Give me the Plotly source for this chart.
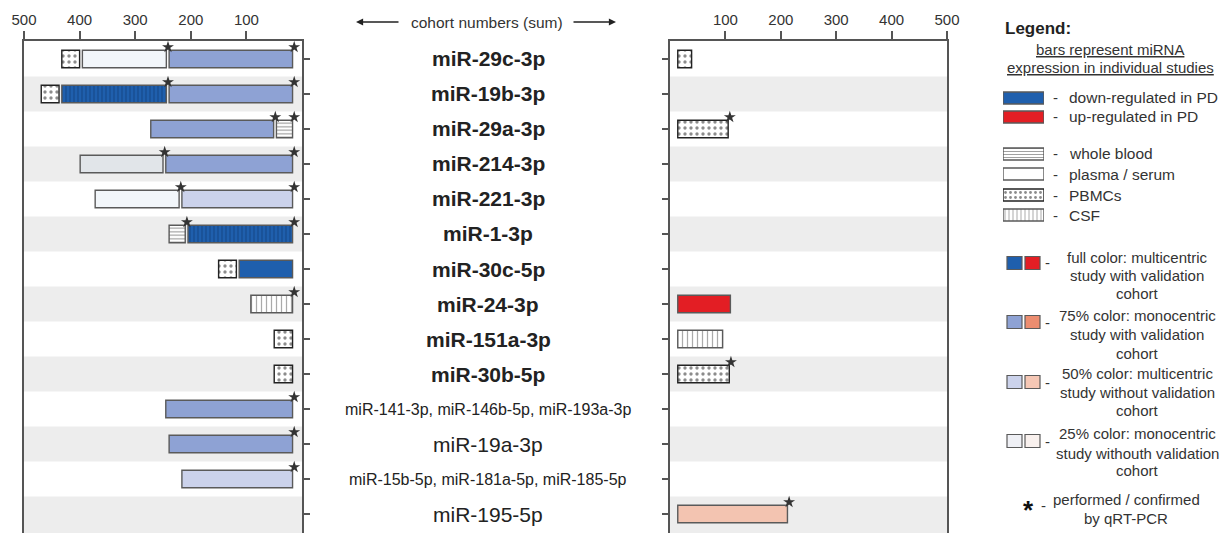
import plotly.graph_objects as go

W, H = 1228, 533
FONT = "Liberation Sans, Arial, sans-serif"

# ---------------- data ----------------
categories = [
    "miR-29c-3p", "miR-19b-3p", "miR-29a-3p", "miR-214-3p", "miR-221-3p",
    "miR-1-3p", "miR-30c-5p", "miR-24-3p", "miR-151a-3p", "miR-30b-5p",
    "miR-141-3p, miR-146b-5p, miR-193a-3p", "miR-19a-3p",
    "miR-15b-5p, miR-181a-5p, miR-185-5p", "miR-195-5p",
]
label_bold = [True] * 10 + [False] * 4
label_size = [21] * 10 + [16, 21, 16, 21]

# left panel: down-regulated studies (inner -> outer per row)
left_row = [0, 0, 0, 1, 1, 1, 2, 2, 3, 3, 4, 4, 5, 5, 6, 6, 7, 8, 9, 10, 11, 12]
left_value = [222, 151, 32, 222, 188, 32, 29, 221, 228, 149, 199, 151, 188, 29,
              96, 32, 75, 33, 33, 228, 222, 199]
left_style = ["b75", "b25", "pbmc", "b75", "b100csf", "pbmc", "wb", "b75", "b75", "b25",
              "b50", "b25", "b100csf", "wb", "b100", "pbmc", "csf", "pbmc", "pbmc",
              "b75", "b75", "b50"]
left_qpcr = [1, 1, 0, 1, 1, 0, 1, 1, 1, 1, 1, 1, 1, 1, 0, 0, 1, 0, 0, 1, 1, 1]

# right panel: up-regulated studies
right_row = [0, 2, 7, 8, 9, 13]
right_value = [25, 91, 95, 81, 93, 198]
right_style = ["pbmc", "pbmc", "r100", "csf", "pbmc", "r50"]
right_qpcr = [0, 1, 0, 0, 1, 1]

left_ticks = [500, 400, 300, 200, 100]
right_ticks = [100, 200, 300, 400, 500]

# ---------------- styles ----------------
EDGE = "#5a5a5a"
STYLE = {
    "b100": dict(color="#1f5fad"),
    "b100csf": dict(color="#1f5fad", pattern=dict(shape="|", fgcolor="#0b356b", size=4, solidity=0.3)),
    "b75": dict(color="#8ea2d4"),
    "b50": dict(color="#cbd2eb"),
    "b25": dict(color="rgba(31,95,173,0.06)"),
    "plasma": dict(color="#ffffff"),
    "pbmc": dict(color="#ffffff", pattern=dict(shape=".", fgcolor="#1a1a1a", size=6, solidity=0.25), edge="#222222"),
    "wb": dict(color="#ffffff", pattern=dict(shape="-", fgcolor="#444444", size=3.5, solidity=0.35)),
    "csf": dict(color="#ffffff", pattern=dict(shape="|", fgcolor="#555555", size=5, solidity=0.25)),
    "r100": dict(color="#e31e24"),
    "r50": dict(color="#f3c4b1"),
}


def marker_for(style):
    s = STYLE[style]
    m = dict(color=s["color"], line=dict(color=s.get("edge", EDGE), width=1.4))
    if "pattern" in s:
        p = dict(s["pattern"])
        p["bgcolor"] = s["color"]
        p["fillmode"] = "overlay"
        m["pattern"] = p
    return m


OFFSET_L, OFFSET_R, GAP = 17, 14, 5


def bases(rows, values, offset):
    cursor, out = {}, []
    for r, v in zip(rows, values):
        b = cursor.get(r, offset)
        out.append(b)
        cursor[r] = b + v + GAP
    return out


left_base = bases(left_row, left_value, OFFSET_L)
right_base = bases(right_row, right_value, OFFSET_R)

fig = go.Figure()

BAR_W = 0.5


def add_panel(rows, values, base, styles, xa, ya):
    for st in dict.fromkeys(styles):
        idx = [i for i, s in enumerate(styles) if s == st]
        fig.add_trace(go.Bar(
            orientation="h",
            y=[rows[i] for i in idx], x=[values[i] for i in idx], base=[base[i] for i in idx],
            width=BAR_W, marker=marker_for(st), xaxis=xa, yaxis=ya,
            showlegend=False, hoverinfo="skip",
        ))


add_panel(left_row, left_value, left_base, left_style, "x", "y")
add_panel(right_row, right_value, right_base, right_style, "x2", "y2")

# qRT-PCR stars at top-right corner of bars
ls_x = [left_base[i] - 3 for i in range(len(left_row)) if left_qpcr[i]]
ls_y = [left_row[i] - 0.34 for i in range(len(left_row)) if left_qpcr[i]]
rs_x = [right_base[i] + right_value[i] + 3 for i in range(len(right_row)) if right_qpcr[i]]
rs_y = [right_row[i] - 0.34 for i in range(len(right_row)) if right_qpcr[i]]
star = dict(symbol="star", size=9, color="#333333", line=dict(width=0))
fig.add_trace(go.Scatter(x=ls_x, y=ls_y, mode="markers", marker=star, xaxis="x", yaxis="y",
                         showlegend=False, hoverinfo="skip"))
fig.add_trace(go.Scatter(x=rs_x, y=rs_y, mode="markers", marker=star, xaxis="x2", yaxis="y2",
                         showlegend=False, hoverinfo="skip"))

# ---------------- legend swatches (hidden axis in pixel units) ----------------
legend_text = ["down-regulated in PD", "up-regulated in PD", "whole blood", "plasma / serum", "PBMCs", "CSF"]
legend_style = ["b100", "r100", "wb", "plasma", "pbmc", "csf"]
legend_y = [98, 117, 154, 174, 195, 215]
for st, yy in zip(legend_style, legend_y):
    m = marker_for(st)
    if "pattern" in m:
        m["pattern"]["size"] = max(3, m["pattern"]["size"] - 1)
    fig.add_trace(go.Bar(orientation="h", y=[yy], x=[1], base=[0], width=12, marker=m,
                         xaxis="x3", yaxis="y3", showlegend=False, hoverinfo="skip"))

# ---------------- layout ----------------
n = len(categories)
TOP = 41
ROW0, ROWH = 59, 35.0
y_top = (TOP - ROW0) / ROWH
y_bot = (H - ROW0) / ROWH
dom_y = [0, (H - TOP) / H]

axis_common = dict(showgrid=False, zeroline=False, showline=True, linecolor="#555555", linewidth=1.5,
                   ticks="outside", tickcolor="#555555", tickwidth=1.5, fixedrange=True, automargin=False)

fig.update_layout(
    width=W, height=H, margin=dict(l=0, r=0, t=0, b=0, autoexpand=False),
    paper_bgcolor="white", plot_bgcolor="rgba(0,0,0,0)",
    barmode="overlay", showlegend=False,
    font=dict(family=FONT, color="#333333"),
    xaxis=dict(domain=[24 / W, 302 / W], range=[500, 0], side="top", anchor="y",
               tickvals=left_ticks, ticklen=8, tickfont=dict(size=15, color="#333333"), **axis_common),
    xaxis2=dict(domain=[670 / W, 947 / W], range=[0, 500], side="top", anchor="y2",
                tickvals=right_ticks, ticklen=8, tickfont=dict(size=15, color="#333333"), **axis_common),
    yaxis=dict(domain=dom_y, range=[y_bot, y_top], anchor="x", side="right", mirror=True,
               tickvals=list(range(n)), ticklen=6, showticklabels=False, **axis_common),
    yaxis2=dict(domain=dom_y, range=[y_bot, y_top], anchor="x2", side="left", mirror=True, matches="y",
                tickvals=list(range(n)), ticklen=6, showticklabels=False, **axis_common),
    xaxis3=dict(domain=[1003 / W, 1044 / W], range=[0, 1], visible=False, anchor="y3", fixedrange=True),
    yaxis3=dict(domain=[0, 1], range=[H, 0], visible=False, anchor="x3", fixedrange=True),
)

# alternating row bands inside both panels
shapes = []
for r in range(1, n, 2):
    y1 = r + 0.5 if r < n - 1 else r + 1.0
    shapes.append(dict(type="rect", xref="x", yref="y", x0=500, x1=0, y0=r - 0.5, y1=y1,
                       fillcolor="#ededed", line=dict(width=0), layer="below"))
    shapes.append(dict(type="rect", xref="x2", yref="y", x0=0, x1=500, y0=r - 0.5, y1=y1,
                       fillcolor="#ededed", line=dict(width=0), layer="below"))


def px(x):
    return x / W


def py(y):
    return 1 - y / H


annotations = []


def text(x, y, s, size=15.5, anchor="center", color="#333333"):
    annotations.append(dict(x=px(x), y=py(y), xref="paper", yref="paper", text=s, showarrow=False,
                            xanchor=anchor, yanchor="middle", font=dict(size=size, color=color, family=FONT)))


# centre labels
for i, (c, b, s) in enumerate(zip(categories, label_bold, label_size)):
    annotations.append(dict(x=px(488), y=i, xref="paper", yref="y", text=f"<b>{c}</b>" if b else c,
                            showarrow=False, xanchor="center", yanchor="middle",
                            font=dict(size=s, color="#222222", family=FONT)))

# header with arrows
text(487, 22, "cohort numbers (sum)", size=15.5)
for hx, ax in [(356, 44), (616, -44)]:
    annotations.append(dict(x=px(hx), y=py(22), xref="paper", yref="paper", text="", showarrow=True,
                            ax=ax, ay=0, arrowhead=2, arrowsize=1.1, arrowwidth=1.3, arrowcolor="#222222"))

# legend texts
text(1003, 28, "<b>Legend:</b>", size=17, anchor="left", color="#222222")
text(1110, 50, "<u>bars represent miRNA</u>", size=15)
text(1110, 67, "<u>expression in individual studies</u>", size=15)
for t, yy in zip(legend_text, legend_y):
    text(1055, yy, "-", size=15)
    text(1067, yy, t, size=15.5, anchor="left")

pair_blue = ["#1f5fad", "#8ea2d4", "#cbd2eb", "#eff0f5"]
pair_red = ["#e31e24", "#ec8d70", "#f5c7b5", "#f9f1ee"]
pair_y = [263, 322, 382, 441]
pair_lines = [
    ["full color: multicentric", "study with validation", "cohort"],
    ["75% color: monocentric", "study with validation", "cohort"],
    ["50% color: multicentric", "study without validation", "cohort"],
    ["25% color: monocentric", "study withouth validation", "cohort"],
]
pair_line_y = [[257, 275, 293], [315, 334, 353], [373, 392, 410], [433, 453, 470]]
for bc, rc, yc, lines, lys in zip(pair_blue, pair_red, pair_y, pair_lines, pair_line_y):
    shapes.append(dict(type="rect", xref="paper", yref="paper", x0=px(1007), x1=px(1022),
                       y0=py(yc + 6.5), y1=py(yc - 6.5), fillcolor=bc, line=dict(color=EDGE, width=1.2)))
    shapes.append(dict(type="rect", xref="paper", yref="paper", x0=px(1025), x1=px(1040),
                       y0=py(yc + 6.5), y1=py(yc - 6.5), fillcolor=rc, line=dict(color=EDGE, width=1.2)))
    text(1047, yc, "-", size=15)
    for ln, ly in zip(lines, lys):
        text(1137, ly, ln, size=15)

text(1028, 510, "<b>*</b>", size=26, color="#111111")
text(1043, 505, "-", size=15)
text(1126, 499, "performed / confirmed", size=15)
text(1126, 518, "by qRT-PCR", size=15)

fig.update_layout(shapes=shapes, annotations=annotations)
fig.write_html("out.html",
               config={"displayModeBar": False},
               post_script="document.body.style.margin='0';document.body.style.overflow='hidden';")
